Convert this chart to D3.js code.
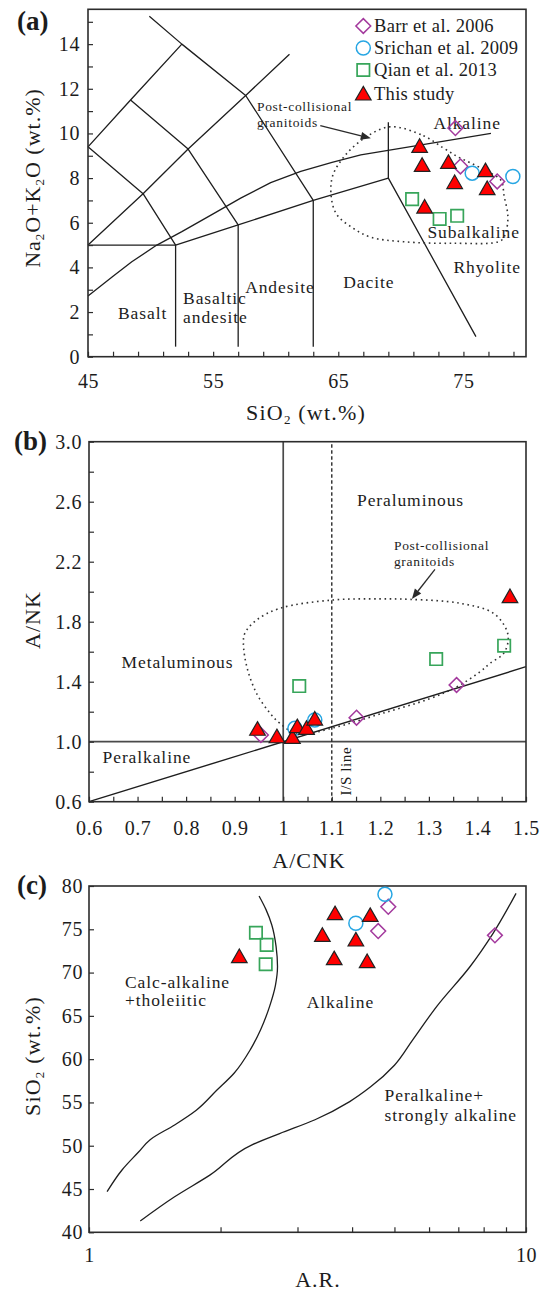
<!DOCTYPE html>
<html>
<head>
<meta charset="utf-8">
<script src="https://cdn.jsdelivr.net/npm/d3@7"></script>
<style>
  body { margin: 0; background: #ffffff; }
  svg text { font-family: "Liberation Serif", "Times New Roman", serif; fill: #1c1c1c; }
</style>
</head>
<body>
<svg id="chart" width="547" height="1292"></svg>
<script>
// ---------------- data ----------------
const legendLabels = ["Barr et al. 2006", "Srichan et al. 2009", "Qian et al. 2013", "This study"];

// (a) total alkali vs silica: [SiO2, Na2O+K2O]
const tasBarr = [[74.36, 10.24], [74.76, 8.52], [77.7, 7.85]];
const tasSrichan = [[75.7, 8.22], [78.95, 8.07]];
const tasQian = [[70.9, 7.06], [73.1, 6.17], [74.5, 6.31]];
const tasThisStudy = [[71.5, 9.42], [71.7, 8.57], [73.8, 8.70], [76.76, 8.33], [74.3, 7.80], [76.9, 7.53], [71.9, 6.70]];
const tasXTicks = d3.range(45, 80, 2);
const tasXLabels = [45, 55, 65, 75];
const tasYTicks = d3.range(0, 16, 1);
const tasYLabels = [0, 2, 4, 6, 8, 10, 12, 14];

// TAS field boundaries
const tasFieldLines = [
  [[45, 9.4], [48.4, 11.5], [52.5, 14]],
  [[49.9, 15.25], [52.5, 14], [57.6, 11.7], [63, 7]],
  [[45, 5], [49.4, 7.3], [53, 9.3], [57.6, 11.7], [61.1, 13.55]],
  [[45, 9.4], [49.4, 7.3], [52, 5]],
  [[48.4, 11.5], [53, 9.3], [57, 5.9]],
  [[45, 5], [52, 5], [57, 5.9], [63, 7], [69, 8], [76.0, 0.9]],
  [[52, 5], [52, 0.45]],
  [[57, 5.9], [57, 0.45]],
  [[63, 7], [63, 0.45]],
  [[69, 8], [69, 10.5]]
];
// alkaline / subalkaline divide
const tasAlkalineLine = [[45, 2.72], [47, 3.6], [48.5, 4.25], [50.5, 5.0], [52.5, 5.6], [55, 6.4], [57.2, 7.1], [59.6, 7.8], [62, 8.3], [64.5, 8.7], [66.8, 9.04], [77.2, 10.0]];
// post-collisional granitoid field
const tasPostCollisional = [[69.2, 10.3], [71.8, 9.9], [73.4, 9.35], [74.5, 8.97], [75.6, 8.67], [76.9, 8.3], [78.0, 7.9], [78.25, 7.2], [78.55, 6.3], [78.4, 5.6], [78.0, 5.2], [74.2, 5.08], [70.2, 5.15], [67.6, 5.35], [66.2, 5.75], [64.9, 6.35], [64.45, 7.1], [64.55, 8.1], [65.6, 9.05], [67.3, 9.87]];

// (b) A/NK vs A/CNK: [A/CNK, A/NK]
const acnkBarr = [[0.954, 1.045], [1.151, 1.16], [1.357, 1.378]];
const acnkSrichan = [[1.024, 1.089], [1.065, 1.145]];
const acnkQian = [[1.033, 1.371], [1.315, 1.551], [1.455, 1.64]];
const acnkThisStudy = [[0.947, 1.083], [0.987, 1.033], [1.019, 1.029], [1.029, 1.10], [1.048, 1.089], [1.065, 1.151], [1.467, 1.967]];
const acnkXTicks = d3.range(0, 19).map(i => +(0.6 + i * 0.05).toFixed(2));
const acnkXLabels = [0.6, 0.7, 0.8, 0.9, 1.0, 1.1, 1.2, 1.3, 1.4, 1.5];
const acnkYTicks = d3.range(0, 13).map(i => +(0.6 + i * 0.2).toFixed(1));
const acnkYLabels = [0.6, 1.0, 1.4, 1.8, 2.2, 2.6, 3.0];
const acnkPostCollisional = [[0.993, 1.123], [1.03, 1.05], [1.1, 1.09], [1.2, 1.185], [1.3, 1.285], [1.357, 1.365], [1.405, 1.465], [1.426, 1.523], [1.453, 1.585], [1.463, 1.667], [1.46, 1.745], [1.433, 1.856], [1.364, 1.923], [1.261, 1.949], [1.2, 1.952], [1.103, 1.945], [0.993, 1.889], [0.945, 1.811], [0.921, 1.723], [0.918, 1.656], [0.925, 1.50], [0.945, 1.323], [0.973, 1.189]];

// (c) SiO2 vs alkalinity ratio: [A.R., SiO2]
const arBarr = [[4.84, 77.6], [4.59, 74.8], [8.49, 74.3]];
const arSrichan = [[4.756, 79.04], [4.08, 75.7]];
const arQian = [[2.41, 74.6], [2.55, 73.2], [2.537, 70.96]];
const arThisStudy = [[2.208, 71.84], [4.40, 76.6], [3.656, 76.8], [3.42, 74.3], [4.08, 73.76], [3.64, 71.6], [4.33, 71.26]];
const arXTicks = [1, 2, 3, 4, 5, 6, 7, 8, 9, 10];
const arXLabels = [1, 10];
const arYTicks = [40, 45, 50, 55, 60, 65, 70, 75, 80];
const arCalcAlkalineLine = [[1.10, 44.7], [1.19, 47.2], [1.30, 49.3], [1.38, 50.7], [1.57, 52.4], [1.76, 54.1], [1.96, 56.4], [2.15, 58.4], [2.34, 61.1], [2.47, 63.4], [2.59, 66.1], [2.67, 68.5], [2.70, 70.7], [2.68, 73.0], [2.62, 75.5], [2.54, 77.3], [2.45, 78.85]];
const arPeralkalineLine = [[1.31, 41.3], [1.57, 44.1], [1.89, 46.6], [2.36, 50.1], [2.73, 51.4], [3.29, 53.0], [3.95, 55.1], [4.41, 56.8], [5.0, 59.3], [5.5, 62.2], [6.25, 66.1], [7.45, 70.7], [8.4, 74.5], [9.49, 79.15]];

// ---------------- drawing helpers ----------------
const svg = d3.select("#chart");
const INK = "#1e1e1e";
const FRAME = "#2c2c2c";

const seriesStyles = [
  { shape: "diamond", stroke: "#a3399d", fill: "none", width: 1.5 },
  { shape: "circle", stroke: "#27a6e3", fill: "none", width: 1.5 },
  { shape: "square", stroke: "#37a55a", fill: "none", width: 1.7 },
  { shape: "triangle", stroke: "#222222", fill: "#ff0000", width: 1.2 }
];
const shapePaths = {
  triangle: "M0,-7.6L7.8,6L-7.8,6Z",
  diamond: "M0,-7.4L7.4,0L0,7.4L-7.4,0Z",
  square: "M-6.2,-6.2H6.2V6.2H-6.2Z"
};

function drawMarkers(g, data, style, x, y) {
  const sel = g.append("g").selectAll(null).data(data).enter();
  if (style.shape === "circle") {
    sel.append("circle")
      .attr("cx", d => x(d[0])).attr("cy", d => y(d[1])).attr("r", 7)
      .attr("fill", style.fill).attr("stroke", style.stroke).attr("stroke-width", style.width);
  } else {
    sel.append("path")
      .attr("d", shapePaths[style.shape])
      .attr("transform", d => `translate(${x(d[0])},${y(d[1])})`)
      .attr("fill", style.fill).attr("stroke", style.stroke).attr("stroke-width", style.width)
      .attr("stroke-linejoin", "miter");
  }
}

function drawFrame(g, x, y) {
  const [x0, x1] = x.range(), [y1, y0] = y.range();
  g.append("rect").attr("x", x0).attr("y", y0).attr("width", x1 - x0).attr("height", y1 - y0)
    .attr("fill", "none").attr("stroke", FRAME).attr("stroke-width", 1.6);
}

function drawAxes(g, x, y, o) {
  const isLabel = (list) => d => list.some(v => Math.abs(v - d) < 1e-6);
  const xa = d3.axisBottom(x).tickValues(o.xTicks).tickSize(-5).tickPadding(o.xPad)
    .tickFormat(d => isLabel(o.xLabels)(d) ? o.xFmt(d) : "");
  const ya = d3.axisLeft(y).tickValues(o.yTicks).tickSize(-5).tickPadding(o.yPad)
    .tickFormat(d => isLabel(o.yLabels)(d) ? o.yFmt(d) : "");
  const gx = g.append("g").attr("transform", `translate(0,${y.range()[0]})`).call(xa);
  const gy = g.append("g").attr("transform", `translate(${x.range()[0]},0)`).call(ya);
  [gx, gy].forEach(s => {
    s.select(".domain").remove();
    s.attr("color", FRAME).attr("font-family", null).attr("font-size", null);
    s.selectAll(".tick line").attr("stroke-width", 1.2);
    s.selectAll(".tick text").style("font-size", "20px").style("letter-spacing", "0.6px").attr("fill", INK);
  });
}

function drawLines(g, lines, x, y, style, curve) {
  const gen = d3.line().x(d => x(d[0])).y(d => y(d[1])).curve(curve || d3.curveLinear);
  g.append("g").selectAll(null).data(lines).enter().append("path")
    .attr("d", gen).attr("fill", "none")
    .attr("stroke", style.stroke || INK).attr("stroke-width", style.width || 1.3)
    .attr("stroke-dasharray", style.dash || null)
    .attr("stroke-linejoin", "round");
}

function drawDottedField(g, pts, x, y) {
  const gen = d3.line().x(d => x(d[0])).y(d => y(d[1])).curve(d3.curveCatmullRomClosed.alpha(0.5));
  g.append("path").attr("d", gen(pts)).attr("fill", "none")
    .attr("stroke", "#333").attr("stroke-width", 1.6).attr("stroke-dasharray", "1.6,3.6");
}

function drawArrow(g, from, to, x, y) {
  const x1 = x(from[0]), y1 = y(from[1]), x2 = x(to[0]), y2 = y(to[1]);
  const a = Math.atan2(y2 - y1, x2 - x1), L = 10, H = 4;
  const bx = x2 - L * Math.cos(a), by = y2 - L * Math.sin(a);
  g.append("line").attr("x1", x1).attr("y1", y1).attr("x2", bx).attr("y2", by)
    .attr("stroke", "#2a2a2a").attr("stroke-width", 1.3);
  g.append("path")
    .attr("d", `M${x2},${y2}L${bx + H * Math.sin(a)},${by - H * Math.cos(a)}L${bx - H * Math.sin(a)},${by + H * Math.cos(a)}Z`)
    .attr("fill", "#2a2a2a");
}

function label(g, text, px, py, size, opts = {}) {
  return g.append("text").attr("x", px).attr("y", py)
    .attr("text-anchor", opts.anchor || "start")
    .attr("transform", opts.rotate ? `rotate(${opts.rotate},${px},${py})` : null)
    .style("font-size", size + "px")
    .style("letter-spacing", (opts.ls != null ? opts.ls : 0.9) + "px")
    .style("font-weight", opts.bold ? "bold" : null)
    .text(text);
}

// text with subscript parts: [[string, isSub], ...]
function richLabel(g, parts, px, py, size, opts = {}) {
  const t = g.append("text").attr("x", px).attr("y", py)
    .attr("text-anchor", opts.anchor || "middle")
    .attr("transform", opts.rotate ? `rotate(${opts.rotate},${px},${py})` : null)
    .style("font-size", size + "px")
    .style("letter-spacing", (opts.ls != null ? opts.ls : 1) + "px");
  let prevSub = false;
  parts.forEach(([s, sub]) => {
    const ts = t.append("tspan").text(s);
    if (sub) ts.style("font-size", Math.round(size * 0.6) + "px").attr("dy", 4);
    else if (prevSub) ts.attr("dy", -4);
    prevSub = !!sub;
  });
  return t;
}

const REGION = 17.5;

// ---------------- panel (a) ----------------
{
  const g = svg.append("g");
  const x = d3.scaleLinear().domain([45, 80]).range([88, 526]);
  const y = d3.scaleLinear().domain([0, 15.56]).range([356.7, 9.3]);

  drawLines(g, tasFieldLines, x, y, { width: 1.3 });
  drawLines(g, [tasAlkalineLine], x, y, { width: 1.3 });
  drawDottedField(g, tasPostCollisional, x, y);
  drawArrow(g, [63.56, 10.35], [67.6, 9.78], x, y);

  const regionLabels = [
    ["Alkaline", 72.6, 10.21], ["Subalkaline", 72.12, 5.32], ["Rhyolite", 74.2, 3.75],
    ["Dacite", 65.4, 3.08], ["Andesite", 57.56, 2.86], ["Basaltic", 52.6, 2.36],
    ["andesite", 52.6, 1.51], ["Basalt", 47.4, 1.69]
  ];
  regionLabels.forEach(([t, a, b]) => label(g, t, x(a), y(b), REGION));
  label(g, "Post-collisional", x(58.5), y(11.0), 13.5, { ls: 0.7 });
  label(g, "granitoids", x(58.5), y(10.3), 13.5, { ls: 0.7 });

  drawFrame(g, x, y);
  drawAxes(g, x, y, {
    xTicks: tasXTicks, xLabels: tasXLabels, xFmt: d => d, xPad: 17,
    yTicks: tasYTicks, yLabels: tasYLabels, yFmt: d => d, yPad: 8
  });

  drawMarkers(g, tasBarr, seriesStyles[0], x, y);
  drawMarkers(g, tasSrichan, seriesStyles[1], x, y);
  drawMarkers(g, tasQian, seriesStyles[2], x, y);
  drawMarkers(g, tasThisStudy, seriesStyles[3], x, y);

  // legend
  const rowsY = [26, 48, 70, 94];
  legendLabels.forEach((name, i) => {
    const lx = 363.3, ly = rowsY[i];
    drawMarkers(g, [[lx, ly]], seriesStyles[i], v => v, v => v);
    label(g, name, 374, ly + 6.3, 18.5, { ls: 0.3 });
  });

  richLabel(g, [["SiO"], ["2", true], [" (wt.%)"]], 306, 420, 22, { ls: 1.2 });
  richLabel(g, [["Na"], ["2", true], ["O+K"], ["2", true], ["O (wt.%)"]], 40, 178, 22, { rotate: -90, ls: 1 });
  label(g, "(a)", 17, 30, 27, { bold: true, ls: 0 });
}

// ---------------- panel (b) ----------------
{
  const g = svg.append("g");
  const x = d3.scaleLinear().domain([0.6, 1.5]).range([89, 526]);
  const y = d3.scaleLinear().domain([0.6, 3.0]).range([801.7, 441.7]);

  drawLines(g, [[[1.0, 0.6], [1.0, 3.0]], [[0.6, 1.0], [1.5, 1.0]]], x, y, { stroke: "#4a4a4a", width: 1.7 });
  drawLines(g, [[[1.1, 0.6], [1.1, 3.0]]], x, y, { stroke: "#2a2a2a", width: 1.4, dash: "3.5,2.5" });
  drawLines(g, [[[0.6, 0.6], [1.5, 1.5]]], x, y, { width: 1.4 });
  drawDottedField(g, acnkPostCollisional, x, y);
  drawArrow(g, [1.3125, 2.149], [1.265, 1.952], x, y);

  label(g, "Peraluminous", x(1.152), y(2.571), REGION);
  label(g, "Metaluminous", x(0.667), y(1.491), REGION);
  label(g, "Peralkaline", x(0.628), y(0.858), REGION);
  label(g, "Post-collisional", x(1.228), y(2.278), 13.5, { ls: 0.7 });
  label(g, "granitoids", x(1.228), y(2.171), 13.5, { ls: 0.7 });
  label(g, "I/S line", x(1.129) + 5, y(0.804), 15, { anchor: "middle", rotate: -90, ls: 0.6 });

  drawFrame(g, x, y);
  drawAxes(g, x, y, {
    xTicks: acnkXTicks, xLabels: acnkXLabels, xFmt: d => (Math.abs(d - 1) < 1e-9 ? "1" : d.toFixed(1)), xPad: 19,
    yTicks: acnkYTicks, yLabels: acnkYLabels, yFmt: d => d.toFixed(1), yPad: 7
  });

  drawMarkers(g, acnkBarr, seriesStyles[0], x, y);
  drawMarkers(g, acnkSrichan, seriesStyles[1], x, y);
  drawMarkers(g, acnkQian, seriesStyles[2], x, y);
  drawMarkers(g, acnkThisStudy, seriesStyles[3], x, y);

  label(g, "A/CNK", 309, 868, 22, { anchor: "middle", ls: 1 });
  label(g, "A/NK", 40, 620, 22, { anchor: "middle", rotate: -90, ls: 1 });
  label(g, "(b)", 14, 450, 27, { bold: true, ls: 0 });
}

// ---------------- panel (c) ----------------
{
  const g = svg.append("g");
  const x = d3.scaleLog().domain([1, 10]).range([89, 526]);
  const y = d3.scaleLinear().domain([40, 80]).range([1232.3, 886]);

  drawLines(g, [arCalcAlkalineLine, arPeralkalineLine], x, y, { width: 1.3 }, d3.curveMonotoneY);

  label(g, "Calc-alkaline", x(1.209), y(68.22), REGION);
  label(g, "+tholeiitic", x(1.209), y(66.14), REGION);
  label(g, "Alkaline", x(3.149), y(65.91), REGION);
  label(g, "Peralkaline+", x(4.747), y(55.17), REGION);
  label(g, "strongly alkaline", x(4.747), y(52.86), REGION);

  drawFrame(g, x, y);
  drawAxes(g, x, y, {
    xTicks: arXTicks, xLabels: arXLabels, xFmt: d => d, xPad: 15.5,
    yTicks: arYTicks, yLabels: arYTicks, yFmt: d => d, yPad: 6
  });

  drawMarkers(g, arBarr, seriesStyles[0], x, y);
  drawMarkers(g, arSrichan, seriesStyles[1], x, y);
  drawMarkers(g, arQian, seriesStyles[2], x, y);
  drawMarkers(g, arThisStudy, seriesStyles[3], x, y);

  label(g, "A.R.", 318, 1287, 22, { anchor: "middle", ls: 1 });
  richLabel(g, [["SiO"], ["2", true], [" (wt.%)"]], 40, 1056, 22, { rotate: -90, ls: 1.2 });
  label(g, "(c)", 17, 894, 27, { bold: true, ls: 0 });
}
</script>
</body>
</html>
